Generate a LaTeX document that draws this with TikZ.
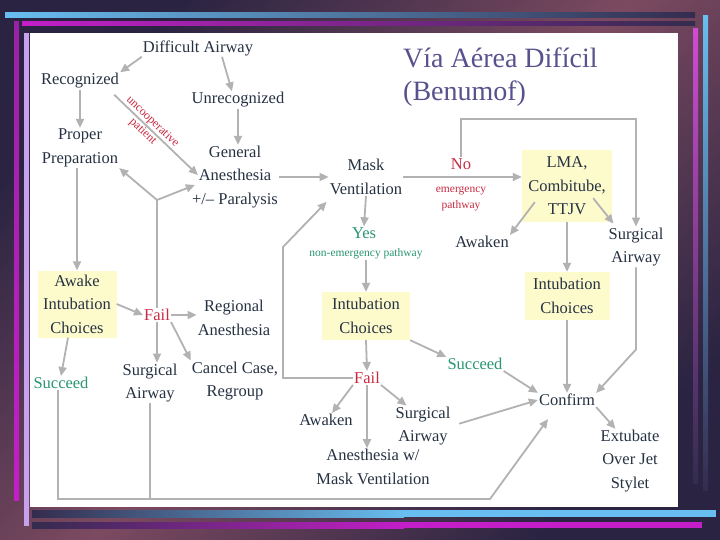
\documentclass[tikz,border=0pt]{standalone}
\usepackage{fontspec}
\setmainfont{Liberation Serif}
\usetikzlibrary{arrows.meta, calc}

\definecolor{bgdark}{RGB}{42,36,66}
\definecolor{bgmauve}{RGB}{124,74,96}
\definecolor{barblue}{RGB}{104,190,240}
\definecolor{barpink}{RGB}{196,30,200}
\definecolor{barlilac}{RGB}{200,160,240}
\definecolor{barnavy}{RGB}{52,44,78}
\definecolor{titlec}{RGB}{88,82,140}
\definecolor{txtc}{RGB}{38,50,66}
\definecolor{failc}{RGB}{200,42,66}
\definecolor{okc}{RGB}{40,150,110}
\definecolor{boxc}{RGB}{253,250,204}
\definecolor{arrc}{RGB}{178,178,178}

\tikzset{
	lbl/.style={font=\fontsize{16.5}{23.5}\selectfont, text=txtc, align=center, inner sep=1pt},
	failtxt/.style={lbl, text=failc},
	oktxt/.style={lbl, text=okc},
	choice/.style={lbl, fill=boxc},
	note/.style={font=\fontsize{11.5}{16}\selectfont, align=center, inner sep=1pt},
	arr/.style={draw=arrc, line width=1.8pt, -{Triangle[length=9pt,width=8pt]}},
	link/.style={draw=arrc, line width=1.8pt},
}

\begin{document}
\begin{tikzpicture}[x=1pt, y=-1pt]
	\useasboundingbox (0,0) rectangle (720,540);
	% background and frame
	\shade[top color=bgdark, bottom color=bgdark, middle color=bgmauve, shading angle=45] (0,0) rectangle (720,540);
	\shade[left color=barblue, middle color=barblue!70!barnavy, right color=barnavy] (5,13) rectangle (695,18);
	\shade[left color=barpink, right color=barnavy] (22,22) rectangle (695,26);
	\shade[top color=barpink!70!barnavy, bottom color=barpink] (14,22) rectangle (19,500);
	\fill[barlilac] (24,33) rectangle (29,526);
	\shade[top color=barpink!80!white, bottom color=barnavy] (693,29) rectangle (698,483);
	\shade[top color=barblue, bottom color=barnavy] (703,16) rectangle (708,490);
	\shade[left color=barnavy, right color=barblue] (32,510) rectangle (404,517);
	\fill[barblue] (404,510) rectangle (716,517);
	\shade[left color=barnavy, right color=barpink] (32,522) rectangle (404,528);
	\fill[barpink] (404,522) rectangle (702,528);
	\fill[white] (30,33) rectangle (678,507);

	\node[anchor=north west, align=left, inner sep=0pt, text=titlec, font=\fontsize{28}{33}\selectfont] (title) at (403,48) {Vía Aérea Difícil\\(Benumof)};

	\node[lbl] (diff) at (198,48) {Difficult Airway};
	\node[lbl] (recog) at (80,81) {Recognized};
	\node[lbl] (unrec) at (238,100) {Unrecognized};
	\node[lbl] (prep) at (80,148) {Proper\\Preparation};
	\node[lbl] (genan) at (235,177) {General\\Anesthesia\\+/-- Paralysis};
	\node[lbl] (mask) at (366,177) {Mask\\Ventilation};
	\node[failtxt] (no) at (461,164) {No};
	\node[note, text=failc] (emerg) at (461,199) {emergency\\pathway};
	\node[choice, minimum width=90pt, minimum height=72pt] (lma) at (567,186) {LMA,\\Combitube,\\TTJV};
	\node[lbl] (awk1) at (482,242) {Awaken};
	\node[lbl] (surg1) at (636,247) {Surgical\\Airway};
	\node[oktxt] (yes) at (364,233) {Yes};
	\node[note, text=okc] (nonem) at (366,254) {non-emergency pathway};
	\node[choice, minimum width=88pt, minimum height=48pt] (intm) at (366,316) {Intubation\\Choices};
	\node[choice, minimum width=85pt, minimum height=48pt] (intr) at (567,296) {Intubation\\Choices};
	\node[choice, minimum width=79pt, minimum height=67pt] (awake) at (77,304) {Awake\\Intubation\\Choices};
	\node[failtxt] (fail1) at (157,315) {Fail};
	\node[lbl] (regan) at (234,318) {Regional\\Anesthesia};
	\node[oktxt] (succ1) at (61,383) {Succeed};
	\node[lbl] (surg2) at (150,383) {Surgical\\Airway};
	\node[lbl] (cancel) at (235,381) {Cancel Case,\\Regroup};
	\node[oktxt] (succ2) at (475,364) {Succeed};
	\node[failtxt] (fail2) at (367,378) {Fail};
	\node[lbl] (confirm) at (567,400) {Confirm};
	\node[lbl] (awk2) at (326,420) {Awaken};
	\node[lbl] (surg3) at (423,426) {Surgical\\Airway};
	\node[lbl] (anmask) at (373,467) {Anesthesia w/\\Mask Ventilation};
	\node[lbl] (extub) at (630,461) {Extubate\\Over Jet\\Stylet};

	\coordinate (fork) at (157,200);
	\coordinate (bl) at (58,499);
	\coordinate (br) at (490,499);

	% recognized / unrecognized
	\draw[arr] (diff.south west) -- (recog.north east);
	\draw[arr] ($(diff.south)+(24,0)$) -- ($(unrec.north)+(-6,0)$);
	\draw[arr] (recog.south) -- (prep.north);
	\draw[arr] ($(recog.south east)+(-6,5)$) -- node[sloped, pos=0.4, text=failc, inner sep=0pt, align=center, font=\fontsize{12}{14}\selectfont] {uncooperative\\patient} ($(genan.west)+(7,-2)$);
	\draw[arr] (unrec.south) -- (unrec.south |- genan.north);
	\draw[arr] (prep.south -| awake.north) -- (awake.north);
	\draw[link] (fail1.north) -- (fork);
	\draw[arr] (fork) -- (prep.south east);
	\draw[arr] (fork) -- ($(genan.west)+(4,8)$);
	\draw[arr] (genan.east |- mask.west) -- (mask.west);

	% mask ventilation
	\draw[arr] (mask.south) -- (yes.north);
	\draw[arr] (mask.east) -- (mask.east -| lma.west);
	\draw[arr] (no.north) -- ++(0,-38) -| (surg1.north);
	\draw[arr] ($(lma.south west)+(13,-20)$) -- (awk1.north east);
	\draw[arr] ($(lma.south east)+(-19,-24)$) -- ($(surg1.north west)+(6,-3)$);
	\draw[arr] (lma.south) -- (intr.north);
	\draw[arr] (nonem.south) -- (nonem.south |- intm.north);
	\draw[arr] (intm.south) -- (fail2.north);
	\draw[arr] (intm.south east) -- (succ2.north west);
	\draw[arr] (succ2.south east) -- (confirm.north west);
	\draw[arr] (intr.south) -- (confirm.north);
	\draw[arr] (surg1.south) -- ++(0,82) -- (confirm.north east);
	\draw[arr] (fail2.south west) -- ($(awk2.north)+(6,0)$);
	\draw[arr] (fail2.south) -- (fail2.south |- anmask.north);
	\draw[arr] (fail2.south east) -- ($(surg3.north west)+(12,0)$);
	\draw[arr, shorten <=8pt] (surg3.east) -- (confirm.west);
	\draw[arr] (confirm.south east) -- ($(extub.north west)+(16,0)$);
	\draw[arr] (fail2.west) -| (283,247) -- ($(mask.south west)+(-2,6)$);

	% awake intubation
	\draw[arr] (awake.east) -- (fail1.west);
	\draw[arr] (fail1.east) -- (regan.west |- fail1.east);
	\draw[arr] (fail1.south) -- (fail1.south |- surg2.north);
	\draw[arr] (fail1.south east) -- (cancel.north west);
	\draw[arr] ($(awake.south)+(-9,0)$) -- (succ1.north);
	\draw[arr] (succ1.south -| bl) -- (bl) -- (br) -- ($(confirm.south)+(-19,12)$);
	\draw[link] (surg2.south) -- (surg2.south |- bl);
\end{tikzpicture}
\end{document}
